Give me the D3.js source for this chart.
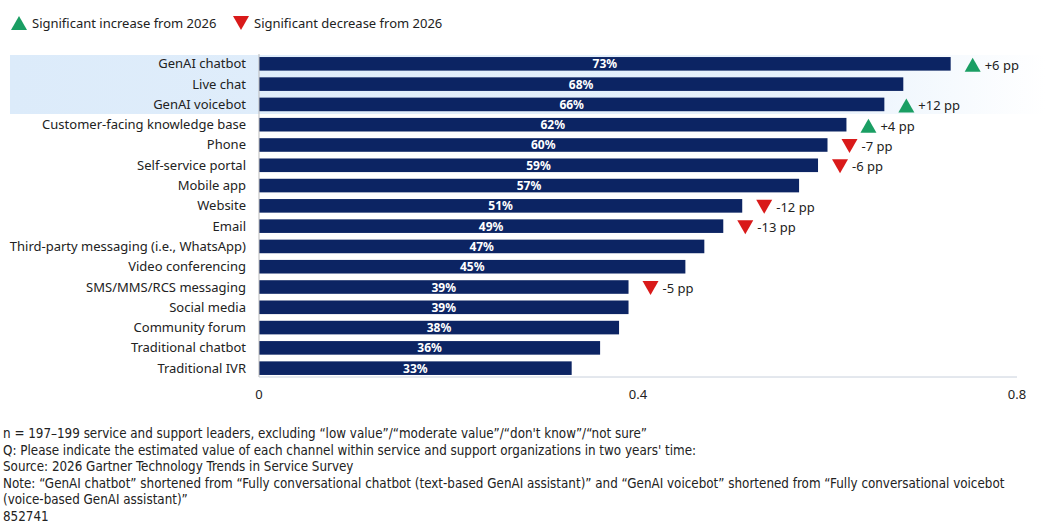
<!DOCTYPE html>
<html><head><meta charset="utf-8">
<script src="https://cdn.jsdelivr.net/npm/d3@7"></script>
<style>body{margin:0;background:#fff}svg{font-family:"Noto Sans",sans-serif}</style>
</head><body><svg id="c" width="1045" height="532"></svg>
<script>
const channels = ["GenAI chatbot","Live chat","GenAI voicebot","Customer-facing knowledge base","Phone","Self-service portal","Mobile app","Website","Email","Third-party messaging (i.e., WhatsApp)","Video conferencing","SMS/MMS/RCS messaging","Social media","Community forum","Traditional chatbot","Traditional IVR"];
const values = [0.73,0.68,0.66,0.62,0.60,0.59,0.57,0.51,0.49,0.47,0.45,0.39,0.39,0.38,0.36,0.33];
const changes = [6,null,12,4,-7,-6,null,-12,-13,null,null,-5,null,null,null,null];
const ticks = [0,0.4,0.8];
const notes = ["n = 197–199 service and support leaders, excluding “low value”/“moderate value”/“don't know”/“not sure”",
"Q: Please indicate the estimated value of each channel within service and support organizations in two years' time:",
"Source: 2026 Gartner Technology Trends in Service Survey",
"Note: “GenAI chatbot” shortened from “Fully conversational chatbot (text-based GenAI assistant)” and “GenAI voicebot” shortened from “Fully conversational voicebot",
"(voice-based GenAI assistant)”","852741"];

const navy="#0c2463", up="#1a9e63", down="#d91a1a";
const svg=d3.select("#c");
const x=d3.scaleLinear().domain([0,0.8]).range([259,1017]);
const y=d3.scaleBand().domain(channels).range([54,378]).paddingInner(0.33).paddingOuter(0.15);

// highlight band for the top three rows
const grad=svg.append("defs").append("linearGradient").attr("id","hl");
grad.append("stop").attr("offset","0").attr("stop-color","#dcebfa");
grad.append("stop").attr("offset","0.75").attr("stop-color","#e6f1fc");
grad.append("stop").attr("offset","1").attr("stop-color","#ffffff");
svg.append("rect").attr("x",10).attr("y",55).attr("width",1035).attr("height",59).attr("fill","url(#hl)");

// legend
const tri=(cx,cy,dir)=> dir>0 ? `M${cx-8},${cy+7}L${cx+8},${cy+7}L${cx},${cy-7}Z` : `M${cx-8},${cy-7}L${cx+8},${cy-7}L${cx},${cy+7}Z`;
svg.append("path").attr("d",tri(19,23,1)).attr("fill",up);
svg.append("text").attr("x",32).attr("y",28).attr("font-size",13).attr("fill","#222").text("Significant increase from 2026");
svg.append("path").attr("d",tri(241,23,-1)).attr("fill",down);
svg.append("text").attr("x",254).attr("y",28).attr("font-size",13).attr("fill","#222").text("Significant decrease from 2026");

// bars
svg.selectAll("rect.bar").data(channels).enter().append("rect").attr("class","bar")
  .attr("x",x(0)).attr("y",d=>y(d)).attr("height",y.bandwidth())
  .attr("width",(d,i)=>x(values[i])-x(0)).attr("fill",navy);
svg.selectAll("text.val").data(channels).enter().append("text").attr("class","val")
  .attr("x",(d,i)=>(x(0)+x(values[i]))/2).attr("y",d=>y(d)+y.bandwidth()/2+4.5)
  .attr("text-anchor","middle").attr("font-size",12).attr("font-weight","bold").attr("fill","#fff")
  .text((d,i)=>Math.round(values[i]*100)+"%");
svg.selectAll("text.cat").data(channels).enter().append("text").attr("class","cat")
  .attr("x",246).attr("y",d=>y(d)+y.bandwidth()/2+4.5).attr("text-anchor","end")
  .attr("font-size",13).attr("fill","#222").text(d=>d);

// change markers
channels.forEach((c,i)=>{
  if(changes[i]==null) return;
  const cx=x(values[i])+22, cy=y(c)+y.bandwidth()/2+1;
  svg.append("path").attr("d",tri(cx,cy,changes[i])).attr("fill",changes[i]>0?up:down);
  svg.append("text").attr("x",cx+12).attr("y",cy+5).attr("font-size",13).attr("fill","#222")
    .text((changes[i]>0?"+":"")+changes[i]+" pp");
});

// axis
svg.append("line").attr("x1",x(0)).attr("x2",x(0)).attr("y1",54).attr("y2",377).attr("stroke","#bbb");
svg.append("line").attr("x1",x(0)).attr("x2",x(0.8)).attr("y1",377).attr("y2",377).attr("stroke","#c8d0dc");
svg.selectAll("text.tick").data(ticks).enter().append("text").attr("class","tick")
  .attr("x",d=>x(d)).attr("y",399).attr("text-anchor","middle").attr("font-size",13).attr("fill","#222")
  .text(d=>d===0?"0":d);

// notes
svg.selectAll("text.note").data(notes).enter().append("text").attr("class","note")
  .attr("x",3).attr("y",(d,i)=>438+i*16.5).attr("font-size",13.3).attr("fill","#222")
  .attr("font-family","'Liberation Sans Narrow','DejaVu Sans Condensed',sans-serif").text(d=>d);
</script></body></html>
